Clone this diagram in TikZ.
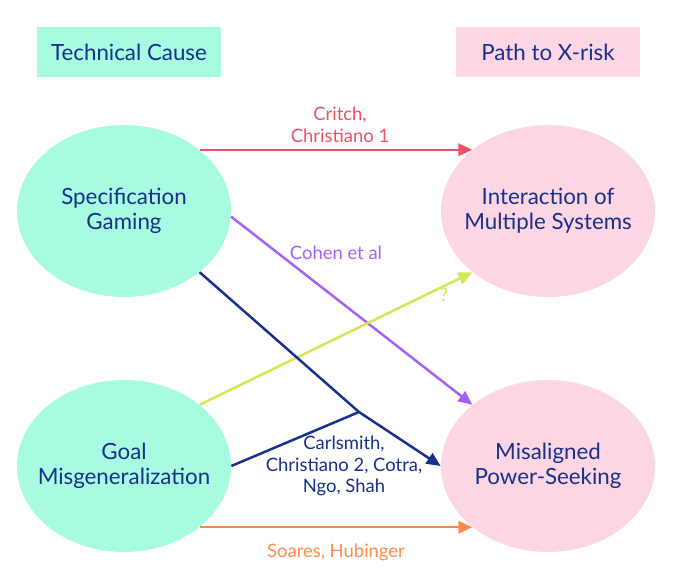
\documentclass[tikz,border=0pt]{standalone}
\usepackage{fontspec}
\setmainfont{Lato}
\usepackage{tikz}
\usetikzlibrary{arrows.meta,shapes.geometric}
\definecolor{aqua}{RGB}{166,251,224}
\definecolor{rose}{RGB}{253,214,228}
\definecolor{navy}{RGB}{22,48,140}
\definecolor{redline}{RGB}{240,78,104}
\definecolor{violet}{RGB}{165,96,250}
\definecolor{lime}{RGB}{205,234,82}
\definecolor{amber}{RGB}{255,138,76}

\begin{document}
\begin{tikzpicture}[
  x=0.02cm, y=-0.02cm,
  head/.style={minimum width=3.68cm, minimum height=1.02cm, inner sep=0pt, text=navy, font=\fontsize{12.7}{14.2}\selectfont},
  cause/.style={ellipse, minimum width=4.28cm, minimum height=3.44cm, inner sep=-12pt, align=center, fill=aqua, text=navy, font=\fontsize{12.7}{14.2}\selectfont},
  risk/.style={cause, fill=rose},
  lab/.style={align=center, font=\fontsize{10.5}{12.3}\selectfont},
  arr/.style={-{Triangle[length=8pt,width=7pt]}, line width=1.4pt}
]
\useasboundingbox (0,0) rectangle (676,574);
\node[head, fill=aqua] (tc) at (129,52) {Technical Cause};
\node[head, fill=rose] (px) at (548,52) {Path to X-risk};
\node[cause] (sg) at (124,211) {Specification\\Gaming};
\node[cause] (gm) at (124,466) {Goal\\Misgeneralization};
\node[risk] (ims) at (548,211) {Interaction of\\Multiple Systems};
\node[risk] (mps) at (548,466) {Misaligned\\Power-Seeking};
\coordinate (jn) at (359,412);

\draw[arr, redline] (sg.39) -- (ims.141);
\draw[arr, violet] (sg.-3) -- (mps.141);
\draw[arr, lime] (gm.39) -- (ims.219);
\draw[line width=1.4pt, navy] (sg.-39) -- (jn);
\draw[line width=1.4pt, navy] (gm.east) -- (jn);
\draw[arr, navy] (jn) -- (mps.west);
\draw[arr, amber] (gm.-39) -- (mps.-141);

\node[lab, text=redline] (l1) at (340,125) {Critch,\\Christiano 1};
\node[lab, text=violet] (l2) at (336,253) {Cohen et al};
\node[lab, text=lime] (l3) at (444,295) {?};
\node[lab, text=navy] (l4) at (344,466) {Carlsmith,\\Christiano 2, Cotra,\\Ngo, Shah};
\node[lab, text=amber] (l5) at (336,552) {Soares, Hubinger};
\end{tikzpicture}
\end{document}
